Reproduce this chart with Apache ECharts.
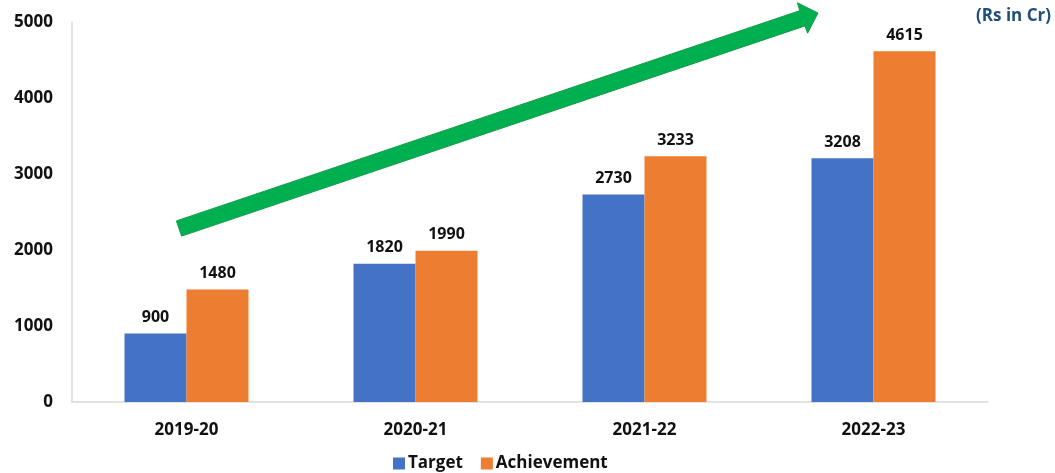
<!DOCTYPE html>
<html>
<head>
<meta charset="utf-8">
<script src="https://cdn.jsdelivr.net/npm/echarts@6/dist/echarts.min.js"></script>
<style>
html,body{margin:0;padding:0;background:#fff;}
#c{width:1055px;height:473px;}
</style>
</head>
<body>
<div id="c"></div>
<script>
var categories = ['2019-20', '2020-21', '2021-22', '2022-23'];
var targetValues = [900, 1820, 2730, 3208];
var achievementValues = [1480, 1990, 3233, 4615];
var yTicks = [0, 1000, 2000, 3000, 4000, 5000];
var unitText = '(Rs in Cr)';

var FONT = '"Open Sans", sans-serif';
var chart = echarts.init(document.getElementById('c'), null, {renderer: 'canvas'});

var labelStyle = {
  show: true, position: 'top', distance: 8,
  color: '#111111', fontFamily: FONT, fontWeight: 'bold', fontSize: 16
};

chart.setOption({
  animation: false,
  backgroundColor: '#ffffff',
  grid: {left: 72, right: 67, top: 22, bottom: 71, containLabel: false},
  legend: {
    data: ['Target', 'Achievement'],
    left: 388, top: 450,
    icon: 'rect', itemWidth: 12, itemHeight: 12, itemGap: 18,
    textStyle: {color: '#111111', fontFamily: FONT, fontWeight: 'bold', fontSize: 17, padding: [0,0,0,-2]}
  },
  xAxis: {
    type: 'category',
    data: categories,
    axisLine: {show: true, lineStyle: {color: '#d9d9d9', width: 1.5}},
    axisTick: {show: false},
    axisLabel: {color: '#111111', fontFamily: FONT, fontWeight: 'bold', fontSize: 17, margin: 20}
  },
  yAxis: {
    type: 'value',
    min: yTicks[0], max: yTicks[yTicks.length - 1], interval: 1000,
    axisLine: {show: true, lineStyle: {color: '#d9d9d9', width: 1.5}},
    axisTick: {show: false},
    splitLine: {show: false},
    axisLabel: {color: '#111111', fontFamily: FONT, fontWeight: 'bold', fontSize: 17, margin: 19,
      formatter: function (v) { return String(v); }}
  },
  series: [
    {
      name: 'Target', type: 'bar', data: targetValues,
      barWidth: 62, barGap: '0%',
      itemStyle: {color: '#4472C4'},
      label: labelStyle
    },
    {
      name: 'Achievement', type: 'bar', data: achievementValues,
      barWidth: 62, barGap: '0%',
      itemStyle: {color: '#ED7D31'},
      label: labelStyle
    }
  ],
  graphic: [
    {
      type: 'polygon',
      shape: {points: [[176.4,220.9],[799.8,10.7],[797.4,2.8],[818,13],[807.6,33.2],[805,25.9],[181.6,236.1]]},
      style: {fill: '#00B050', stroke: '#119A45', lineWidth: 1}
    },
    {
      type: 'text', right: 4, top: 8,
      style: {text: unitText, fill: '#1F4E79', font: 'bold 17px "Open Sans", sans-serif'}
    }
  ]
});
</script>
</body>
</html>
